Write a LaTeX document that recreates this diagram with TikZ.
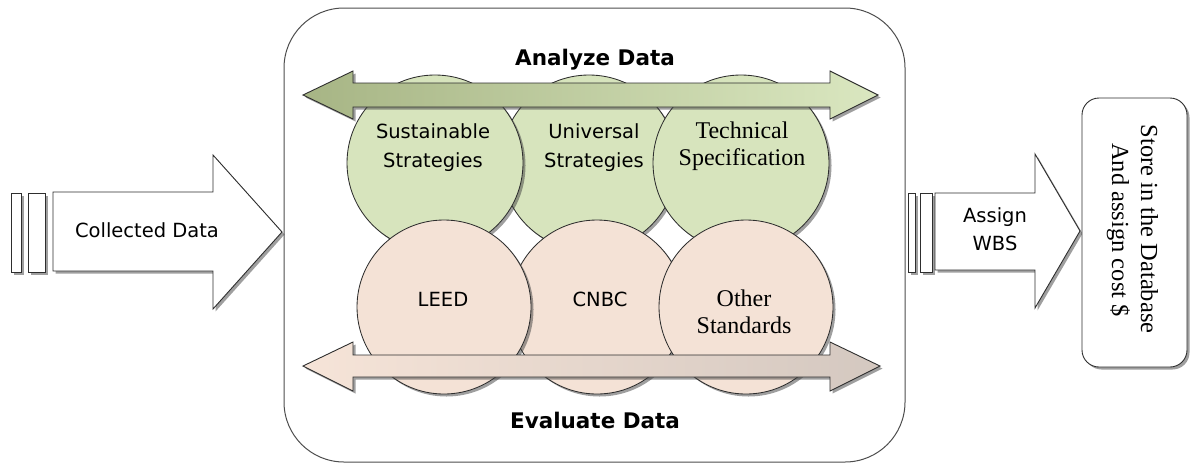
\documentclass[tikz,border=0pt]{standalone}
\usepackage{fontspec}
\newfontfamily\labelsans{DejaVu Sans}
\newfontfamily\labelserif{Liberation Serif}
\usetikzlibrary{shadows}
\definecolor{circgreen}{HTML}{D7E4BD}
\definecolor{circpink}{HTML}{F4E2D6}
\definecolor{arrgreenL}{HTML}{A7B585}
\definecolor{arrgreenR}{HTML}{DAE7C0}
\definecolor{arrpinkL}{HTML}{F6E4D8}
\definecolor{arrpinkR}{HTML}{D4C8C0}
\definecolor{edge}{HTML}{2E2E2E}

\begin{document}
\begin{tikzpicture}[x=1pt,y=-1pt,
  castshadow/.style={drop shadow={shadow xshift=2.5pt,shadow yshift=-2.5pt,opacity=0.5,fill=black!75}},
  outline/.style={draw=edge,line width=0.9pt},
  blockarrow/.style={outline,fill=white,castshadow},
  bar/.style={outline,fill=white,castshadow,inner sep=0pt,minimum height=79pt},
  bubble/.style={circle,draw=edge,line width=0.85pt,inner sep=0pt,castshadow},
  greenbubble/.style={bubble,fill=circgreen,minimum size=176pt},
  pinkbubble/.style={bubble,fill=circpink,minimum size=174pt},
  sanslabel/.style={font=\labelsans\fontsize{19.5}{23}\selectfont,inner sep=0pt,anchor=base},
  seriflabel/.style={font=\labelserif\fontsize{24}{28}\selectfont,inner sep=0pt,anchor=base},
  storelabel/.style={font=\labelserif\fontsize{24.5}{29}\selectfont,inner sep=0pt,anchor=base,rotate=-90},
  heading/.style={font=\labelsans\bfseries\fontsize{21.5}{26}\selectfont,inner sep=0pt,anchor=base},
]
\useasboundingbox (0,0) rectangle (1190,464);

% central process frame
\node[draw=edge!85,line width=1pt,rounded corners=60pt,minimum width=621pt,minimum height=454pt,inner sep=0pt]
  (frame) at (594.5,235) {};

% strategy circles (middle one sits underneath its neighbours)
\node[greenbubble] (uni) at (589,163) {};
\node[greenbubble] (sus) at (435,163) {};
\node[greenbubble] (tec) at (741,163) {};

% standard circles
\node[pinkbubble] (cnbc) at (597,307) {};
\node[pinkbubble] (leed) at (444,307) {};
\node[pinkbubble] (oth)  at (746,307) {};

% two-way arrows across the circle rows
\draw[outline,castshadow,left color=arrgreenL,right color=arrgreenR]
  (303,95) -- (353,71) -- (353,83) -- (830,83) -- (830,71) -- (878,95)
  -- (830,119) -- (830,107) -- (353,107) -- (353,119) -- cycle;
\draw[outline,castshadow,left color=arrpinkL,right color=arrpinkR]
  (303,366) -- (353,342) -- (353,355) -- (830,355) -- (830,342) -- (880,366)
  -- (830,391) -- (830,377) -- (353,377) -- (353,391) -- cycle;

\node[heading] (analyze)  at (595,65)  {Analyze Data};
\node[heading] (evaluate) at (595,428) {Evaluate Data};

% circle captions
\node[sanslabel] (susA) at (433,138) {Sustainable};
\node[sanslabel] (susB) at (433,167) {Strategies};
\node[sanslabel] (uniA) at (594,138) {Universal};
\node[sanslabel] (uniB) at (594,167) {Strategies};
\node[seriflabel] (tecA) at (742,138) {Technical};
\node[seriflabel] (tecB) at (742,165) {Specification};
\node[sanslabel] (leedA) at (443,306) {LEED};
\node[sanslabel] (cnbcA) at (600,306) {CNBC};
\node[seriflabel] (othA) at (744,306) {Other};
\node[seriflabel] (othB) at (744,333) {Standards};

% input arrow
\node[bar,minimum width=10pt] (inbarA) at (16,232.5) {};
\node[bar,minimum width=17pt] (inbarB) at (36.5,232.5) {};
\draw[blockarrow] (53,192) -- (213,192) -- (213,155) -- (282,232) -- (213,309)
  -- (213,271) -- (53,271) -- cycle;
\node[sanslabel] (collected) at (147,237) {Collected Data};

% output arrow
\node[bar,minimum width=7pt] (outbarA) at (911.5,232.5) {};
\node[bar,minimum width=12pt] (outbarB) at (926,232.5) {};
\draw[blockarrow] (935,193) -- (1035,193) -- (1035,154) -- (1080,231) -- (1035,308)
  -- (1035,270) -- (935,270) -- cycle;
\node[sanslabel] (assignA) at (995,222) {Assign};
\node[sanslabel] (assignB) at (995,250) {WBS};

% database step
\node[outline,fill=white,castshadow,rounded corners=17pt,minimum width=105pt,minimum height=269pt,inner sep=0pt]
  (store) at (1134.5,232.5) {};
\node[storelabel] (storeA) at (1141,229) {Store in the Database};
\node[storelabel] (storeB) at (1112,230) {And assign cost \$};

\end{tikzpicture}
\end{document}
